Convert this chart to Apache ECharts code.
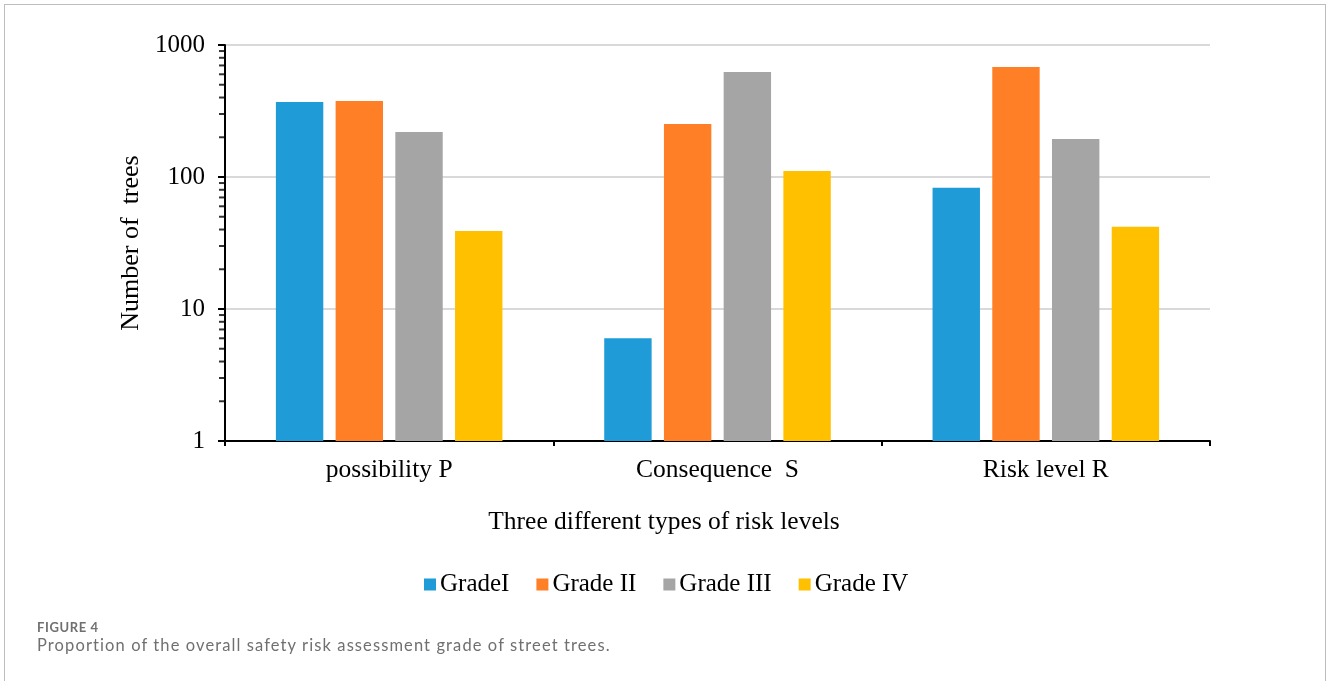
<!DOCTYPE html>
<html>
<head>
<meta charset="utf-8">
<script src="https://cdn.jsdelivr.net/npm/echarts@6/dist/echarts.min.js"></script>
<style>
html,body{margin:0;padding:0;background:#fff;}
#frame{position:absolute;left:4px;top:4px;width:1322px;height:677px;border-left:1px solid #bdbdbd;border-right:1px solid #bdbdbd;border-top:1px solid #bdbdbd;box-sizing:border-box;}
#chart{position:absolute;left:0;top:0;width:1328px;height:681px;}
.cap1{position:absolute;left:37px;top:619px;font-family:Lato,"Open Sans",sans-serif;font-weight:bold;font-size:13px;letter-spacing:0.6px;color:#707070;}
.cap2{position:absolute;left:37px;top:635px;font-family:Lato,"Open Sans",sans-serif;font-size:16.5px;letter-spacing:1.1px;color:#707070;}
</style>
</head>
<body>
<div id="frame"></div>
<div id="chart"></div>
<div class="cap1">FIGURE 4</div>
<div class="cap2">Proportion of the overall safety risk assessment grade of street trees.</div>
<script>
const categories = ['possibility P', 'Consequence  S', 'Risk level R'];
const seriesNames = ['GradeI', 'Grade II', 'Grade III', 'Grade IV'];
const gradeI = [370, 6, 83];
const gradeII = [376, 252, 680];
const gradeIII = [219, 624, 194];
const gradeIV = [39, 111, 42];
const colors = ['#1f9bd7', '#ff7f27', '#a5a5a5', '#ffc000'];
const minorTickValues = [2,3,4,5,6,7,8,9,20,30,40,50,60,70,80,90,200,300,400,500,600,700,800,900];

const values = [gradeI, gradeII, gradeIII, gradeIV];
const serif = '"Liberation Serif", "Times New Roman", serif';

const barSeries = seriesNames.map((name, i) => ({
  name: name,
  type: 'bar',
  xAxisIndex: 0,
  data: values[i],
  barGap: '26%',
  barCategoryGap: '31%',
  itemStyle: {color: colors[i]}
}));

// minor ticks of the log axis, placed through the chart's own y scale
const minorTickSeries = {
  type: 'scatter',
  xAxisIndex: 1,
  clip: false,
  symbol: 'rect',
  symbolSize: [6, 2],
  symbolOffset: [-3, 0],
  itemStyle: {color: '#000'},
  emphasis: {disabled: true},
  data: minorTickValues.map(v => [0, v]),
  z: 5
};

const chart = echarts.init(document.getElementById('chart'), null, {renderer: 'canvas'});
chart.setOption({
  animation: false,
  color: colors,
  textStyle: {fontFamily: serif},
  grid: {left: 225, right: 118, top: 45, bottom: 240, containLabel: false},
  legend: {
    data: seriesNames,
    left: 419,
    top: 567,
    icon: 'rect',
    itemWidth: 12,
    itemHeight: 12,
    itemGap: 27,
    textStyle: {fontFamily: serif, fontSize: 25, color: '#000', padding: [0, 0, 0, -1]}
  },
  xAxis: [{
    type: 'category',
    data: categories,
    boundaryGap: true,
    axisLine: {lineStyle: {color: '#000', width: 2}},
    axisTick: {show: true, length: 5, lineStyle: {color: '#000', width: 2}},
    axisLabel: {fontFamily: serif, fontSize: 25.5, color: '#000', margin: 16},
    splitLine: {show: false}
  }, {
    type: 'value',
    min: 0,
    max: 1,
    show: false
  }],
  yAxis: {
    type: 'log',
    logBase: 10,
    min: 1,
    max: 1000,
    name: 'Number of  trees',
    nameLocation: 'middle',
    nameGap: 80,
    nameRotate: 90,
    nameTextStyle: {fontFamily: serif, fontSize: 26, color: '#000'},
    axisLine: {show: true, lineStyle: {color: '#000', width: 2}},
    axisTick: {show: true, length: 7, lineStyle: {color: '#000', width: 2}},
    axisLabel: {fontFamily: serif, fontSize: 25, color: '#000', margin: 20, formatter: v => String(v)},
    splitLine: {show: true, lineStyle: {color: '#d9d9d9', width: 2}}
  },
  graphic: [{
    type: 'text',
    left: 'center',
    top: 509,
    style: {text: 'Three different types of risk levels', fontFamily: serif, fontSize: 25.5, fill: '#000', x: -37}
  }],
  series: barSeries.concat([minorTickSeries])
});
</script>
</body>
</html>
